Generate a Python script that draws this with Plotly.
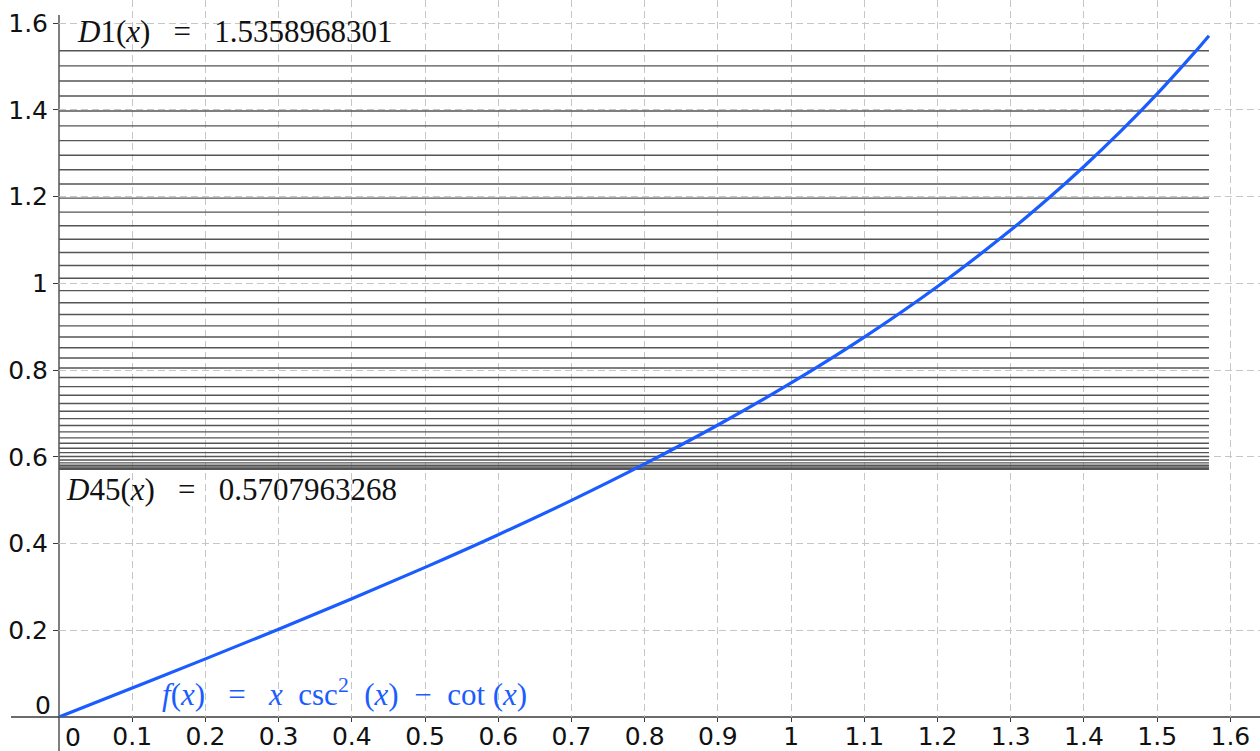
import plotly.graph_objects as go

# ---- data -------------------------------------------------------------
# f(x) = x csc^2(x) - cot(x)
CURVE_X = [0.0, 0.1, 0.2, 0.3, 0.4, 0.5, 0.6, 0.7, 0.8, 0.9, 1.0, 1.1,
           1.2, 1.3, 1.35, 1.4, 1.45, 1.5, 1.55, 1.5708]
CURVE_Y = [0.0, 0.0668, 0.1340, 0.2024, 0.2725, 0.3449, 0.4202, 0.4994,
           0.5834, 0.6732, 0.7702, 0.8760, 0.9926, 1.1226, 1.1936, 1.2692,
           1.3500, 1.4366, 1.5299, 1.5708]

# horizontal lines D1 ... D45
D_VALUES = [1.535897, 1.501040, 1.466268, 1.431623, 1.397148, 1.362884,
            1.328874, 1.295159, 1.261779, 1.228776, 1.196189, 1.164059,
            1.132425, 1.101324, 1.070796, 1.040877, 1.011603, 0.983011,
            0.955135, 0.928008, 0.901665, 0.876138, 0.851456, 0.827651,
            0.804752, 0.782785, 0.761779, 0.741758, 0.722748, 0.704771,
            0.687848, 0.672002, 0.657251, 0.643612, 0.631103, 0.619739,
            0.609534, 0.600500, 0.592648, 0.585988, 0.580528, 0.576274,
            0.573232, 0.571405, 0.570796]
LINE_X_START = 0.0
LINE_X_END = 1.5708

X_TICKS = [0.1, 0.2, 0.3, 0.4, 0.5, 0.6, 0.7, 0.8, 0.9, 1.0, 1.1, 1.2,
           1.3, 1.4, 1.5, 1.6]
X_TICK_TEXT = ["0.1", "0.2", "0.3", "0.4", "0.5", "0.6", "0.7", "0.8",
               "0.9", "1", "1.1", "1.2", "1.3", "1.4", "1.5", "1.6"]
Y_TICKS = [0.2, 0.4, 0.6, 0.8, 1.0, 1.2, 1.4, 1.6]
Y_TICK_TEXT = ["0.2", "0.4", "0.6", "0.8", "1", "1.2", "1.4", "1.6"]

NB = "\u00a0"
D1_LABEL = "<i>D</i>1(<i>x</i>)" + NB * 3 + "=" + NB * 3 + "1.5358968301"
D45_LABEL = "<i>D</i>45(<i>x</i>)" + NB * 3 + "=" + NB * 3 + "0.5707963268"
F_LABEL = ("<i>f</i>(<i>x</i>)" + NB * 3 + "=" + NB * 3 + "<i>x</i>" + NB * 2
           + "csc<sup>2</sup>" + NB * 2 + "(<i>x</i>)" + NB * 2 + "\u2212"
           + NB * 2 + "cot" + NB + "(<i>x</i>)")

BLUE = "#1a5cff"
LINE_GREY = "rgb(85,85,85)"
AXIS_COLOR = "#3a3a3a"
GRID_COLOR = "#c6c6c6"
TICK_FONT = dict(family="DejaVu Sans", size=25, color="#111111")
SERIF = "Liberation Serif"

# ---- figure -----------------------------------------------------------
hx, hy = [], []
for d in D_VALUES:
    hx += [LINE_X_START, LINE_X_END, None]
    hy += [d, d, None]

fig = go.Figure()
fig.add_trace(go.Scatter(x=hx, y=hy, mode="lines",
                         line=dict(color=LINE_GREY, width=1.4),
                         hoverinfo="skip", showlegend=False))
fig.add_trace(go.Scatter(x=CURVE_X, y=CURVE_Y, mode="lines",
                         line=dict(color=BLUE, width=3.2, shape="spline"),
                         showlegend=False))

W, H = 1260, 751
ML, MB = 59, 34
PX_PER_X = 732.1
PX_PER_Y = 433.75
plot_w, plot_h = W - ML, H - MB

fig.update_layout(
    width=W, height=H,
    margin=dict(l=ML, r=0, t=0, b=MB, pad=0, autoexpand=False),
    paper_bgcolor="white", plot_bgcolor="white",
    showlegend=False,
    xaxis=dict(range=[0, plot_w / PX_PER_X], tickvals=X_TICKS,
               ticktext=X_TICK_TEXT, showgrid=True, gridcolor=GRID_COLOR,
               griddash="7px,4px", gridwidth=1, zeroline=False,
               showline=False, ticks="outside", ticklen=4,
               tickcolor=AXIS_COLOR, tickfont=TICK_FONT, fixedrange=True,
               automargin=False, ticklabelstandoff=-7),
    yaxis=dict(range=[0, plot_h / PX_PER_Y], tickvals=Y_TICKS,
               ticktext=Y_TICK_TEXT, showgrid=True, gridcolor=GRID_COLOR,
               griddash="7px,4px", gridwidth=1, zeroline=False,
               showline=False, ticks="outside", ticklen=5,
               tickcolor=AXIS_COLOR, tickfont=TICK_FONT, fixedrange=True,
               automargin=False),
)

# axis lines crossing at the origin, extended a little past it
fig.add_shape(type="line", xref="paper", yref="paper",
              x0=0, x1=0, y0=-MB / plot_h, y1=(plot_h - 15) / plot_h,
              line=dict(color=AXIS_COLOR, width=1.3), layer="below")
fig.add_shape(type="line", xref="paper", yref="paper",
              x0=-48 / plot_w, x1=1, y0=0, y1=0,
              line=dict(color=AXIS_COLOR, width=1.3), layer="below")

# zero labels (offset from the origin as in the reference)
fig.add_annotation(text="0", xref="paper", yref="paper", x=0, y=0,
                   xanchor="right", yanchor="middle", xshift=-6, yshift=12,
                   showarrow=False, font=TICK_FONT)
fig.add_annotation(text="0", xref="paper", yref="paper", x=0, y=0,
                   xanchor="center", yanchor="middle", xshift=14, yshift=-20,
                   showarrow=False, font=TICK_FONT)

fig.add_annotation(text=D1_LABEL, xref="x", yref="y", x=0, y=D_VALUES[0],
                   xanchor="left", yanchor="middle", xshift=16, yshift=19,
                   showarrow=False, font=dict(family=SERIF, size=31,
                                              color="#111111"))
fig.add_annotation(text=D45_LABEL, xref="x", yref="y", x=0, y=D_VALUES[-1],
                   xanchor="left", yanchor="middle", xshift=5, yshift=-20,
                   showarrow=False, font=dict(family=SERIF, size=31,
                                              color="#111111"))
fig.add_annotation(text=F_LABEL, xref="x", yref="y", x=0, y=0,
                   xanchor="left", yanchor="middle", xshift=101, yshift=25,
                   showarrow=False, font=dict(family=SERIF, size=31,
                                              color=BLUE))

fig.write_html("out.html",
               config={"displayModeBar": False},
               post_script="document.body.style.margin='0px';"
                           "document.body.style.overflow='hidden';")
